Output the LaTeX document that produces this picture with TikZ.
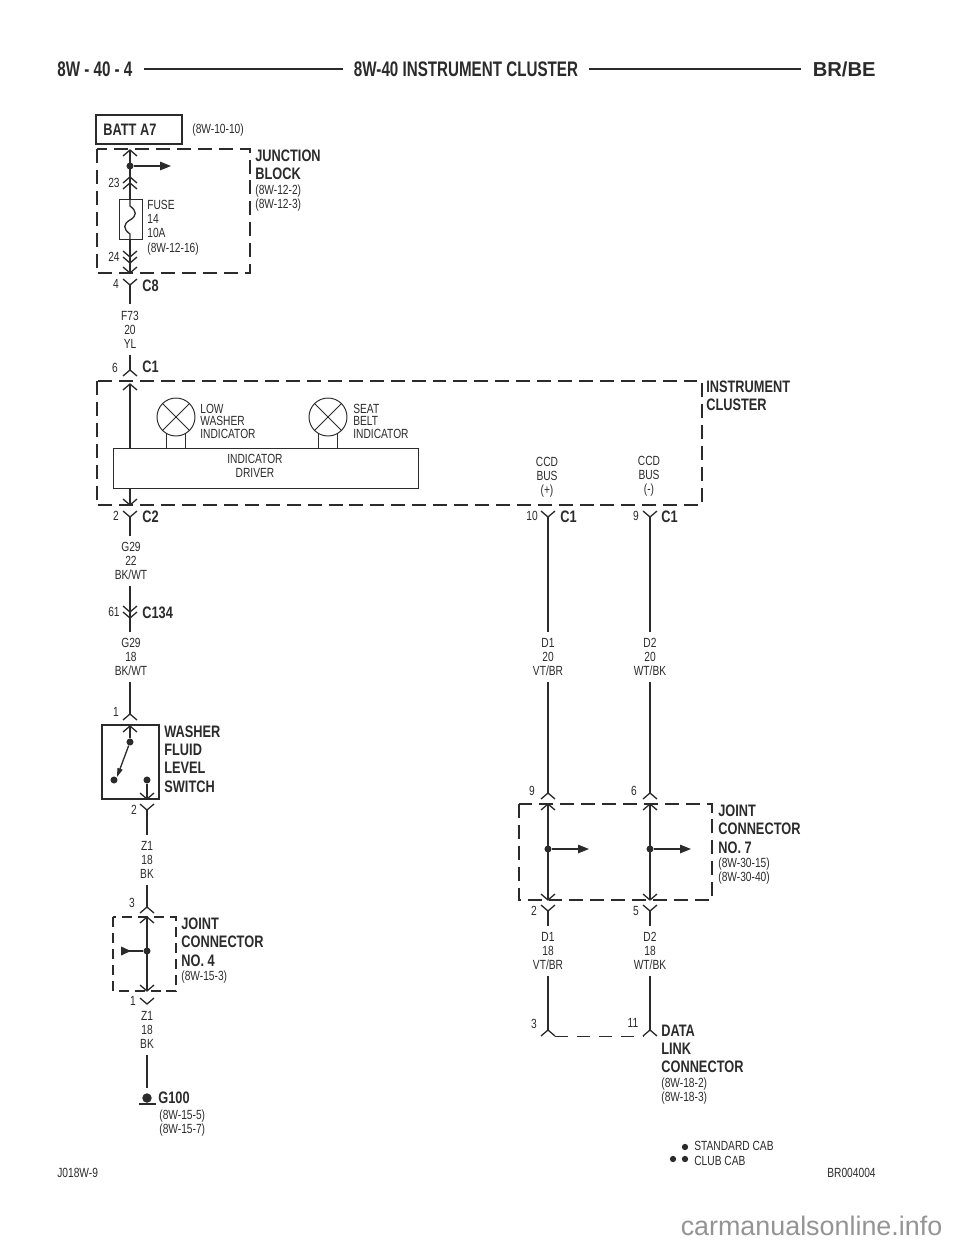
\documentclass[tikz,border=0pt]{standalone}
\usepackage{fontspec}
\setmainfont[FakeStretch=0.77]{Liberation Sans}
\newfontfamily\headsans[FakeStretch=0.72]{Liberation Sans}
\newfontfamily\plainsans{Liberation Sans}
\usetikzlibrary{arrows.meta}

\definecolor{ink}{gray}{0.17}
\tikzset{
	wire/.style={draw=ink, line width=0.75pt},
	thinwire/.style={draw=ink, line width=0.55pt},
	thinbox/.style={draw=ink, line width=0.55pt, inner sep=0pt},
	dashbox/.style={draw=ink, line width=1.35pt, dash pattern=on 14pt*0.5669 off 7pt*0.5669, line join=miter},
	solidbox/.style={draw=ink, line width=1.5pt},
	tap/.style={wire, -{Triangle[length=6.2pt,width=4.8pt]}},
	junct/.style={circle, fill=ink, inner sep=0pt, minimum size=4pt},
	small/.style={text=ink, inner sep=0pt, font=\fontsize{7.55}{7.9}\selectfont},
	pinlabel/.style={small},
	wirelabel/.style={small, align=center, inner sep=3.5pt},
	reflabel/.style={small, align=left, anchor=west},
	lamplabel/.style={text=ink, inner sep=0pt, align=left, anchor=west, font=\fontsize{7.55}{7.1}\selectfont},
	blocklabel/.style={text=ink, inner sep=0pt, align=left, anchor=west, font=\fontsize{9.45}{10.4}\selectfont\bfseries},
	conlabel/.style={text=ink, inner sep=0pt, anchor=west, font=\fontsize{9.45}{10.4}\selectfont\bfseries},
	headlabel/.style={text=ink, inner sep=0pt, font=\fontsize{12}{13}\headsans\bfseries},
}
\newcommand{\pinup}[1]{\draw [wire] (#1) ++(-7,6) -- ++(7,-6) -- ++(7,6);}
\newcommand{\pindown}[1]{\draw [wire] (#1) ++(-7,-6) -- ++(7,6) -- ++(7,-6);}

\begin{document}
\begin{tikzpicture}[x=0.02cm, y=-0.02cm]
	\useasboundingbox (0,0) rectangle (960,1242);

	\node [headlabel, anchor=west] (pagenum) at (57,69) {8W - 40 - 4};
	\node [headlabel] (pagetitle) at (466,69) {8W-40 INSTRUMENT CLUSTER};
	\node [headlabel, anchor=east, font=\fontsize{11.5}{12}\plainsans\bfseries] (pagemodel) at (876,69) {BR/BE};
	\draw [draw=ink, line width=1.3pt] (pagenum.east) ++(11,0) -- ([xshift=-11*0.02cm]pagetitle.west);
	\draw [draw=ink, line width=1.3pt] (pagetitle.east) ++(11,0) -- ([xshift=-11*0.02cm]pagemodel.west);

	\node [solidbox, minimum width=86*0.02cm, minimum height=29*0.02cm, inner sep=0pt] (batt) at (139,129.5) {};
	\node [conlabel] (battlabel) at (103,130) {BATT A7};
	\node [reflabel] (battref) at (192,130) {(8W-10-10)};

	\draw [dashbox] (97,149) rectangle (250,273);
	\node [blocklabel] (jblabel) at (255,165) {JUNCTION\\BLOCK};
	\node [reflabel] (jbrefs) at (255,198) {(8W-12-2)\\(8W-12-3)};
	\coordinate (jbtop) at (130,150);
	\coordinate (jbbot) at (130,273);
	\coordinate (jbout) at (171,166);
	\coordinate (fuseup) at (130,199);
	\coordinate (fusedown) at (130,239);
	\node [junct] (jbdot) at (130,166) {};
	\draw [wire] (jbtop) -- (fuseup);
	\draw [wire] (fusedown) -- (jbbot);
	\draw [tap] (jbdot) -- (jbout);
	\pinup{jbtop}
	\pinup{130,177}
	\pinup{130,183}
	\pindown{130,257}
	\pindown{130,263}
	\pindown{jbbot}
	\node [pinlabel] (pin23) at (114,183) {23};
	\node [pinlabel] (pin24) at (114,257) {24};
	\node [thinbox, minimum width=23*0.02cm, minimum height=40*0.02cm] (fuse) at (130.5,219) {};
	\draw [wire] (fuseup) -- (130,206) .. controls (137,211) and (137,216) .. (130,220) .. controls (123,224) and (123,229) .. (130,234) -- (fusedown);
	\node [reflabel, font=\fontsize{7.55}{8.2}\selectfont] (fuselabel) at (147,227.5) {FUSE\\14\\10A\\(8W-12-16)};

	\coordinate (c8) at (130,285);
	\pindown{c8}
	\node [pinlabel] (pin4) at (116,284) {4};
	\node [conlabel] (c8label) at (142,286) {C8};
	\node [wirelabel] (f73) at (130,329.5) {F73\\20\\YL};
	\draw [wire] (c8) -- (f73.north);
	\coordinate (c1a) at (130,370);
	\pinup{c1a}
	\draw [wire] (f73.south) -- (c1a);
	\node [pinlabel] (pin6) at (115,368) {6};
	\node [conlabel] (c1alabel) at (142,367) {C1};

	\draw [dashbox] (97,381) rectangle (702,505);
	\node [blocklabel] (iclabel) at (706,396) {INSTRUMENT\\CLUSTER};
	\node [thinbox, minimum width=305*0.02cm, minimum height=40*0.02cm] (driver) at (265.5,468) {};
	\node [small, align=center] (driverlabel) at (255,466) {INDICATOR\\DRIVER};
	\coordinate (ictop) at (130,384);
	\coordinate (icbot) at (130,505);
	\draw [wire] (ictop) -- (ictop |- driver.north);
	\pinup{ictop}
	\draw [wire] (icbot |- driver.south) -- (icbot);
	\pindown{icbot}

	\node [thinbox, circle, minimum size=38*0.02cm] (lampa) at (176,417) {};
	\node [thinbox, circle, minimum size=38*0.02cm] (lampb) at (328,417) {};
	\foreach \lamp in {lampa,lampb} {
		\draw [thinwire] (\lamp.45) -- (\lamp.225);
		\draw [thinwire] (\lamp.135) -- (\lamp.315);
		\draw [thinwire] (\lamp.240) -- (\lamp.240 |- driver.north);
		\draw [thinwire] (\lamp.300) -- (\lamp.300 |- driver.north);
	}
	\node [lamplabel] (lampalabel) at (200,421) {LOW\\WASHER\\INDICATOR};
	\node [lamplabel] (lampblabel) at (353,421) {SEAT\\BELT\\INDICATOR};
	\node [small, align=center] (ccdplus) at (547,477) {CCD\\BUS\\(+)};
	\node [small, align=center] (ccdminus) at (649,476) {CCD\\BUS\\(-)};

	\coordinate (c2) at (130,517);
	\pindown{c2}
	\node [pinlabel] (pin2a) at (116,516) {2};
	\node [conlabel] (c2label) at (142,517) {C2};
	\node [wirelabel] (g29a) at (131,561) {G29\\22\\BK/WT};
	\draw [wire] (c2) -- (c2 |- g29a.north);
	\coordinate (c134a) at (130,612);
	\coordinate (c134b) at (130,618);
	\pindown{c134a}
	\pindown{c134b}
	\draw [wire] (c134a |- g29a.south) -- (c134b);
	\node [pinlabel] (pin61) at (114,612) {61};
	\node [conlabel] (c134label) at (142,613) {C134};
	\node [wirelabel] (g29b) at (131,657) {G29\\18\\BK/WT};
	\draw [wire] (c134b) -- (c134b |- g29b.north);

	\coordinate (swin) at (130,714);
	\pinup{swin}
	\draw [wire] (swin |- g29b.south) -- (swin);
	\node [pinlabel] (pin1a) at (116,712) {1};
	\node [solidbox, minimum width=57*0.02cm, minimum height=74*0.02cm, inner sep=0pt] (switch) at (130.5,762) {};
	\node [blocklabel] (swlabel) at (164,759) {WASHER\\FLUID\\LEVEL\\SWITCH};
	\coordinate (swtop) at (130,726);
	\coordinate (swbot) at (147,799);
	\node [junct] (swpivot) at (130,742) {};
	\node [junct] (swleft) at (114,780) {};
	\node [junct] (swright) at (147,780) {};
	\draw [wire] (swtop) -- (swpivot);
	\pinup{swtop}
	\draw [wire, -{Triangle[length=5pt,width=3pt]}] (swpivot) -- (117,777);
	\draw [wire] (swright) -- (swbot);
	\pindown{swbot}

	\coordinate (swout) at (147,810);
	\pindown{swout}
	\node [pinlabel] (pin2b) at (134,810) {2};
	\node [wirelabel] (z1a) at (147,860) {Z1\\18\\BK};
	\draw [wire] (swout) -- (z1a.north);
	\coordinate (jcin) at (147,907);
	\pinup{jcin}
	\draw [wire] (z1a.south) -- (jcin);
	\node [pinlabel] (pin3a) at (132,903) {3};

	\draw [dashbox, dash pattern=on 10pt*0.5669 off 6pt*0.5669] (113,917) rectangle (176,991);
	\node [blocklabel] (jc4label) at (181,942) {JOINT\\CONNECTOR\\NO. 4};
	\node [reflabel] (jc4ref) at (181,977) {(8W-15-3)};
	\coordinate (jc4top) at (147,917);
	\coordinate (jc4bot) at (147,991);
	\coordinate (jc4in) at (121,951);
	\node [junct] (jc4dot) at (147,951) {};
	\draw [wire] (jc4top) -- (jc4bot);
	\pinup{jc4top}
	\pindown{jc4bot}
	\draw [wire, {Triangle[length=5.6pt,width=5pt,reversed]}-] (jc4in) -- (jc4dot);
	\coordinate (jc4out) at (147,1004);
	\pindown{jc4out}
	\node [pinlabel] (pin1b) at (133,1001) {1};
	\node [wirelabel] (z1b) at (147,1030) {Z1\\18\\BK};

	\coordinate (gndtop) at (147,1088);
	\coordinate (gnd) at (147,1098);
	\draw [wire] (z1b.south) -- (gndtop);
	\node [junct, minimum size=5.4pt] (gnddot) at (gnd) {};
	\draw [draw=ink, line width=1.2pt] (gnd) ++(-8,6) -- ++(17,0);
	\node [conlabel] (g100label) at (158,1098) {G100};
	\node [reflabel] (g100refs) at (159,1123) {(8W-15-5)\\(8W-15-7)};

	\coordinate (c1b) at (548,517);
	\coordinate (c1c) at (650,517);
	\pindown{c1b}
	\pindown{c1c}
	\node [pinlabel] (pin10) at (532,516) {10};
	\node [pinlabel] (pin9a) at (636,516) {9};
	\node [conlabel] (c1blabel) at (560,517) {C1};
	\node [conlabel] (c1clabel) at (661,517) {C1};
	\node [wirelabel] (d1a) at (548,657) {D1\\20\\VT/BR};
	\node [wirelabel] (d2a) at (650,657) {D2\\20\\WT/BK};
	\draw [wire] (c1b) -- (d1a.north);
	\draw [wire] (c1c) -- (d2a.north);

	\coordinate (j7a) at (548,793);
	\coordinate (j7b) at (650,793);
	\pinup{j7a}
	\pinup{j7b}
	\draw [wire] (d1a.south) -- (j7a);
	\draw [wire] (d2a.south) -- (j7b);
	\node [pinlabel] (pin9b) at (532,791) {9};
	\node [pinlabel] (pin6b) at (634,791) {6};

	\draw [dashbox] (519,804) rectangle (712,900);
	\node [blocklabel] (jc7label) at (718,829) {JOINT\\CONNECTOR\\NO. 7};
	\node [reflabel] (jc7refs) at (718,871) {(8W-30-15)\\(8W-30-40)};
	\coordinate (j7atop) at (548,804);
	\coordinate (j7btop) at (650,804);
	\coordinate (j7abot) at (548,900);
	\coordinate (j7bbot) at (650,900);
	\coordinate (j7aout) at (589,849);
	\coordinate (j7bout) at (691,849);
	\node [junct] (j7adot) at (548,849) {};
	\node [junct] (j7bdot) at (650,849) {};
	\draw [wire] (j7atop) -- (j7abot);
	\draw [wire] (j7btop) -- (j7bbot);
	\pinup{j7atop}
	\pinup{j7btop}
	\pindown{j7abot}
	\pindown{j7bbot}
	\draw [tap] (j7adot) -- (j7aout);
	\draw [tap] (j7bdot) -- (j7bout);

	\coordinate (j7ac) at (548,911);
	\coordinate (j7bc) at (650,911);
	\pindown{j7ac}
	\pindown{j7bc}
	\node [pinlabel] (pin2c) at (534,911) {2};
	\node [pinlabel] (pin5) at (636,911) {5};
	\node [wirelabel] (d1b) at (548,951) {D1\\18\\VT/BR};
	\node [wirelabel] (d2b) at (650,951) {D2\\18\\WT/BK};
	\draw [wire] (j7ac) -- (d1b.north);
	\draw [wire] (j7bc) -- (d2b.north);

	\coordinate (dla) at (548,1030);
	\coordinate (dlb) at (650,1030);
	\pinup{dla}
	\pinup{dlb}
	\draw [wire] (d1b.south) -- (dla);
	\draw [wire] (d2b.south) -- (dlb);
	\draw [thinwire, dash pattern=on 13pt*0.5669 off 9pt*0.5669] (dla) ++(7,6) -- ([shift={(-7,6)}]dlb);
	\node [pinlabel] (pin3b) at (534,1024) {3};
	\node [pinlabel] (pin11) at (633,1023) {11};
	\node [blocklabel] (dllabel) at (661,1049) {DATA\\LINK\\CONNECTOR};
	\node [reflabel] (dlrefs) at (661,1091) {(8W-18-2)\\(8W-18-3)};

	\node [junct, minimum size=3.6pt] (stddot) at (685,1147) {};
	\node [junct, minimum size=3.6pt] (clubdota) at (673,1159) {};
	\node [junct, minimum size=3.6pt] (clubdotb) at (685,1159) {};
	\node [reflabel] (stdlabel) at (694,1146) {STANDARD CAB};
	\node [reflabel] (clublabel) at (694,1161) {CLUB CAB};

	\node [reflabel] (figleft) at (57,1173) {J018W-9};
	\node [small, anchor=east] (figright) at (876,1173) {BR004004};
	\node [inner sep=0pt, text=black!42, font=\fontsize{15.3}{16}\plainsans] (watermark) at (811.5,1226) {carmanualsonline.info};
\end{tikzpicture}
\end{document}
